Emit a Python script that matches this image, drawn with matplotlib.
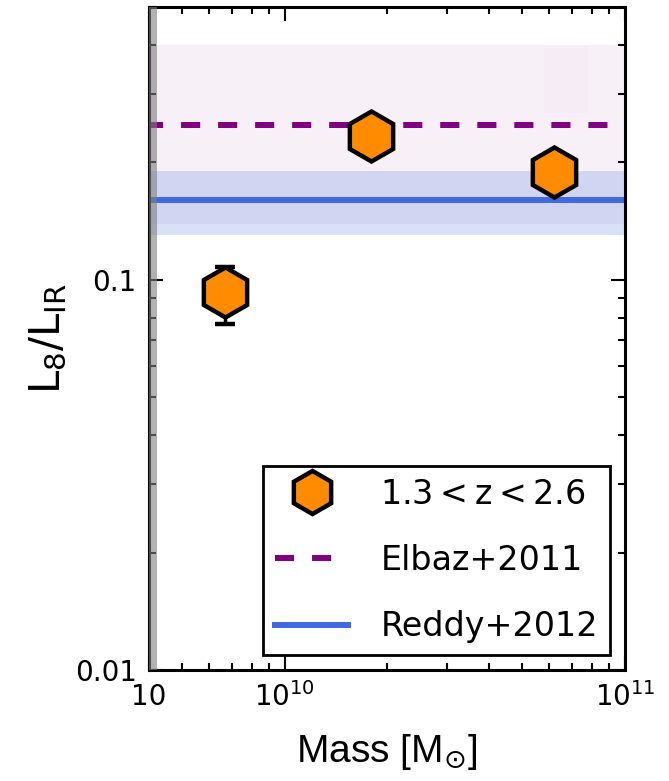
import numpy as np
import matplotlib.pyplot as plt

plt.rcParams['font.family'] = ['DejaVu Sans']
plt.rcParams['mathtext.fontset'] = 'dejavusans'

# data points (1.3 < z < 2.6)
mass = [6.7e9, 1.79e10, 6.2e10]
ratio = [0.093, 0.234, 0.189]
err_lo = [0.016, 0.005, 0.005]
err_hi = [0.015, 0.005, 0.005]

# literature values and their ranges
elbaz_val = 0.25
elbaz_lo, elbaz_hi = 0.139, 0.40
reddy_val = 0.16
reddy_lo, reddy_hi = 0.13, 0.19

xlim = [4.0e9, 1.0e11]
ylim = [0.01, 0.5]

fig = plt.figure(figsize=(6.69, 7.81), dpi=100)
ax = fig.add_axes([0.223, 0.142, 0.711, 0.849])
ax.set_xscale('log')
ax.set_yscale('log')

xx = np.array([3.0e9, 2.0e11])
ax.fill_between(xx, elbaz_lo, elbaz_hi, color='purple', alpha=0.06, lw=0, zorder=1)
ax.fill_between([5.8e10, 7.8e10], 0.268, 0.398, color='purple', alpha=0.015, lw=0, zorder=1)
ax.fill_between(xx, reddy_lo, reddy_hi, color='royalblue', alpha=0.2, lw=0, zorder=1)

l_elbaz, = ax.plot(xx, [elbaz_val] * 2, color='purple', ls='--', dashes=(3.2, 3.0), lw=4.3, zorder=2)
l_reddy, = ax.plot(xx, [reddy_val] * 2, color='royalblue', ls='-', lw=4.3, zorder=2)

# mass completeness limit
ax.axvspan(3.0e9, 4.22e9, color='grey', alpha=0.6, lw=0, zorder=3)

ax.errorbar(mass, ratio, yerr=[err_lo, err_hi], fmt='h', ms=36, mfc='darkorange', mec='black',
            mew=3.2, ecolor='black', elinewidth=2.5, capsize=7, capthick=3, zorder=5)
l_pts, = ax.plot([], [], 'h', ms=31, mfc='darkorange', mec='black', mew=3.2)

ax.set_xlim(xlim)
ax.set_ylim(ylim)

ax.set_xticks([4.0e9, 1e10, 1e11])
ax.set_xticklabels(['10', r'$10^{10}$', r'$10^{11}$'])
ax.set_yticks([0.01, 0.1])
ax.set_yticklabels(['0.01', '0.1'])
ax.tick_params(which='both', direction='in', top=True, right=True, labelsize=20)
ax.tick_params(which='major', length=10, width=1.5, pad=9)
ax.tick_params(which='minor', length=5, width=1.5)
for s in ax.spines.values():
    s.set_linewidth(2.2)

ax.set_xlabel(r'Mass [M$_{\odot}$]', fontsize=28, family='Liberation Sans', labelpad=14)
ax.set_ylabel(r'L$_8$/L$_{\rm IR}$', fontsize=30, labelpad=4)

leg = ax.legend([l_pts, l_elbaz, l_reddy], [r'1.3$<$z$<$2.6', 'Elbaz+2011', 'Reddy+2012'],
                loc='lower right', fontsize=24, numpoints=1, labelspacing=1.0, handlelength=2.2,
                handletextpad=0.96, borderpad=0.35, borderaxespad=0, fancybox=False,
                framealpha=1, edgecolor='black', bbox_to_anchor=(0.968, 0.023))
leg.get_frame().set_linewidth(2)

fig.savefig('out.png', dpi=100)
